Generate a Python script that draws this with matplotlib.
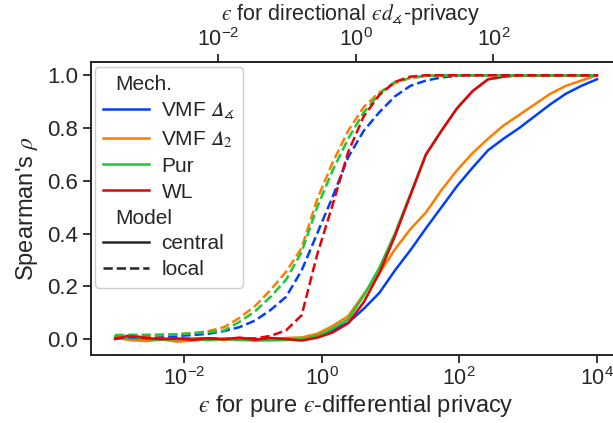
import numpy as np
import matplotlib
matplotlib.use("Agg")
import matplotlib.pyplot as plt
from matplotlib.lines import Line2D
from matplotlib.offsetbox import VPacker

# privacy budgets evaluated (pure eps-DP scale)
eps = np.logspace(-3, 4, 32)

# Spearman's rho, central model
vmf_ang_central = [0.002, 0.0, -0.003, 0.001, -0.002, 0.0, 0.002, -0.002, 0.001, 0.0,
                   -0.003, 0.002, 0.003, 0.012, 0.034, 0.062, 0.115, 0.175, 0.26, 0.337,
                   0.42, 0.50, 0.58, 0.65, 0.716, 0.76, 0.80, 0.845, 0.89, 0.93, 0.96, 0.985]
vmf_l2_central = [0.005, -0.004, -0.008, -0.002, -0.01, -0.006, 0.0, -0.004, 0.002, -0.003,
                  0.0, 0.004, 0.006, 0.02, 0.05, 0.087, 0.17, 0.25, 0.34, 0.417,
                  0.48, 0.565, 0.64, 0.705, 0.76, 0.81, 0.85, 0.89, 0.93, 0.96, 0.98, 1.0]
pur_central = [0.01, 0.004, 0.0, -0.003, 0.0, 0.002, -0.004, 0.0, -0.003, -0.006,
               -0.005, -0.004, 0.0, 0.01, 0.04, 0.075, 0.165, 0.27, 0.40, 0.55,
               0.70, 0.79, 0.875, 0.94, 0.985, 0.995, 1.0, 1.0, 1.0, 1.0, 1.0, 1.0]
wl_central = [0.0, 0.015, 0.003, 0.0, 0.002, -0.003, 0.003, 0.0, 0.005, -0.003,
              0.004, 0.0, -0.006, 0.005, 0.025, 0.06, 0.14, 0.25, 0.39, 0.545,
              0.70, 0.79, 0.875, 0.94, 0.985, 0.995, 1.0, 1.0, 1.0, 1.0, 1.0, 1.0]

# Spearman's rho, local model
vmf_ang_local = [0.005, 0.006, 0.008, 0.01, 0.012, 0.015, 0.02, 0.03, 0.045, 0.07,
                 0.11, 0.16, 0.26, 0.40, 0.54, 0.69, 0.79, 0.86, 0.92, 0.96,
                 0.98, 0.992, 0.998, 1.0, 1.0, 1.0, 1.0, 1.0, 1.0, 1.0, 1.0, 1.0]
vmf_l2_local = [0.008, 0.01, 0.01, 0.015, 0.018, 0.022, 0.03, 0.045, 0.08, 0.125,
                0.186, 0.255, 0.345, 0.53, 0.67, 0.79, 0.88, 0.935, 0.97, 0.99,
                0.997, 1.0, 1.0, 1.0, 1.0, 1.0, 1.0, 1.0, 1.0, 1.0, 1.0, 1.0]
pur_local = [0.015, 0.016, 0.016, 0.017, 0.018, 0.022, 0.026, 0.032, 0.065, 0.105,
             0.16, 0.225, 0.33, 0.50, 0.64, 0.76, 0.86, 0.93, 0.975, 0.99,
             0.998, 1.0, 1.0, 1.0, 1.0, 1.0, 1.0, 1.0, 1.0, 1.0, 1.0, 1.0]
wl_local = [0.003, 0.01, 0.005, 0.0, 0.003, 0.0, 0.002, 0.0, 0.004, 0.002,
            0.012, 0.033, 0.09, 0.32, 0.51, 0.71, 0.845, 0.925, 0.975, 0.995,
            1.0, 1.0, 1.0, 1.0, 1.0, 1.0, 1.0, 1.0, 1.0, 1.0, 1.0, 1.0]

mechs = ["VMF $\U0001D6E5_\\measuredangle$", "VMF $\U0001D6E5_2$", "Pur", "WL"]
colors = ["#023eff", "#ff7c00", "#1ac938", "#e8000b"]
central = [vmf_ang_central, vmf_l2_central, pur_central, wl_central]
local = [vmf_ang_local, vmf_l2_local, pur_local, wl_local]

plt.rcParams.update({
    "font.family": ["Liberation Sans", "DejaVu Sans"],
    "mathtext.fontset": "stix",
    "font.size": 16,
    "text.color": "#262626",
    "axes.labelcolor": "#262626",
    "axes.edgecolor": "#262626",
    "axes.linewidth": 1.4,
    "xtick.color": "#262626",
    "ytick.color": "#262626",
    "xtick.major.size": 6,
    "ytick.major.size": 6,
    "xtick.major.width": 1.3,
    "ytick.major.width": 1.3,
    "xtick.major.pad": 3,
    "xtick.minor.size": 0,
    "xtick.labelsize": 15.5,
    "ytick.labelsize": 16,
})

fig = plt.figure(figsize=(6.13, 4.23), dpi=100)
ax = fig.add_axes([0.1485, 0.1608, 0.8646, 0.6927])

for c, yc in zip(colors, central):
    ax.plot(eps, yc, color=c, lw=1.8, ls="-")
for c, yl in zip(colors, local):
    ax.plot(eps, yl, color=c, lw=1.8, ls="--")

ax.set_xscale("log")
ax.set_xticks([1e-2, 1e0, 1e2, 1e4])
ax.xaxis.set_minor_locator(matplotlib.ticker.NullLocator())
ax.set_yticks([0.0, 0.2, 0.4, 0.6, 0.8, 1.0])
ax.set_yticklabels(["0.0", "0.2", "0.4", "0.6", "0.8", "1.0"])
ax.spines["right"].set_visible(False)
ax.set_xlabel("$\u03f5$ for pure $\u03f5$-differential privacy", fontsize=17, labelpad=2)
ax.set_ylabel(r"Spearman's $\rho$", fontsize=17, labelpad=5)

# directional privacy budget is eps / pi
top = ax.secondary_xaxis("top", functions=(lambda x: x / np.pi, lambda x: x * np.pi))
top.set_xticks([1e-2, 1e0, 1e2])
top.xaxis.set_minor_locator(matplotlib.ticker.NullLocator())
top.tick_params(pad=2)
fig.text(0.572, 0.995, "$\u03f5$ for directional $\u03f5 d_\\measuredangle$-privacy",
         fontsize=15.5, ha="center", va="top", color="#262626")

# legend with two sub-headings
blank = Line2D([], [], visible=False)
handles = [blank]
labels = ["Mech."]
for c, m in zip(colors, mechs):
    handles.append(Line2D([], [], color=c, lw=1.8))
    labels.append(m)
handles += [Line2D([], [], visible=False),
            Line2D([], [], color="#262626", lw=1.8, ls="-"),
            Line2D([], [], color="#262626", lw=1.8, ls="--")]
labels += ["Model", "central", "local"]
leg = ax.legend(handles, labels, loc="upper left", bbox_to_anchor=(0.007, 0.984),
                borderaxespad=0, fontsize=15, handlelength=2.2, labelspacing=0.33,
                handletextpad=0.6, edgecolor="#cccccc", framealpha=1.0)
for hp in leg.findobj(VPacker)[0].get_children():
    da, ta = hp.get_children()
    if not all(a.get_visible() for a in da.get_children()):
        da.set_width(0)

fig.savefig("out.png", dpi=100)
